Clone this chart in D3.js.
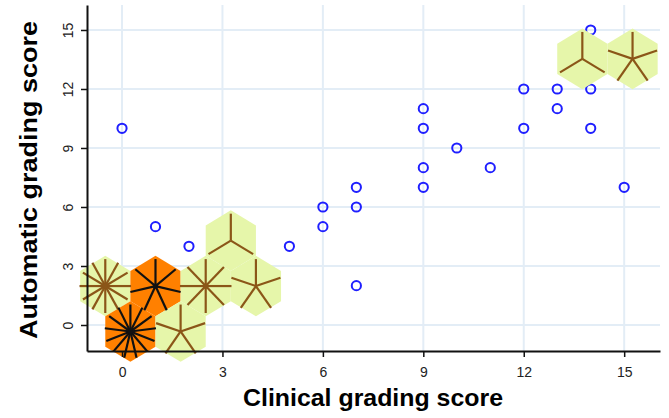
<!DOCTYPE html>
<html>
<head>
<meta charset="utf-8">
<script src="https://cdn.jsdelivr.net/npm/d3@7"></script>
<style>
  html, body { margin: 0; padding: 0; background: #fff; }
  svg { display: block; font-family: "Liberation Sans", Arial, sans-serif; }
</style>
</head>
<body>
<svg id="chart" width="669" height="418"></svg>
<script>
// ---- data ----
const xTicks = [0, 3, 6, 9, 12, 15];
const yTicks = [0, 3, 6, 9, 12, 15];

// individual observations (clinical, automatic)
const pointX = [0, 1, 2, 5, 6, 6, 7, 7, 7, 9, 9, 9, 9, 10, 11, 12, 12, 13, 13, 14, 14, 14, 15];
const pointY = [10, 5, 4, 4, 6, 5, 7, 6, 2, 11, 10, 8, 7, 9, 8, 12, 10, 12, 11, 15, 12, 10, 7];

// sunflowers (hexagonal bins)
const sunX      = [-0.5, 1.0, 0.25, 1.75, 2.5, 3.25, 4.0, 13.75, 15.25];
const sunY      = [1.98, 1.98, -0.33, -0.33, 1.98, 4.29, 1.98, 13.53, 13.53];
const sunPetals = [12, 7, 13, 5, 8, 3, 5, 3, 5];
const sunDark   = [false, true, true, false, false, false, false, false, false];

const xLabel = "Clinical grading score";
const yLabel = "Automatic grading score";

// ---- layout ----
const svg = d3.select("#chart");
const x = d3.scaleLinear().domain([-1.046, 16.07]).range([87, 660]);
const y = d3.scaleLinear().domain([-1.322, 16.27]).range([351, 5]);

const hexHalfW = 0.75, hexR = 1.54;      // hexagon size in data units
const petalLx = 0.77, petalLy = 1.37;    // petal length in data units

// gridlines
const grid = svg.append("g");
grid.selectAll("line.gy").data(yTicks).join("line")
  .attr("x1", x.range()[0]).attr("x2", x.range()[1])
  .attr("y1", d => y(d)).attr("y2", d => y(d))
  .attr("stroke", "#e3edf6").attr("stroke-width", 2);
grid.selectAll("line.gx").data(xTicks).join("line")
  .attr("y1", y.range()[0]).attr("y2", y.range()[1])
  .attr("x1", d => x(d)).attr("x2", d => x(d))
  .attr("stroke", "#e3edf6").attr("stroke-width", 2);

// scatter points
const pts = pointX.map((v, i) => ({x: v, y: pointY[i]}));
svg.append("g").selectAll("circle").data(pts).join("circle")
  .attr("cx", d => x(d.x)).attr("cy", d => y(d.y)).attr("r", 4.6)
  .attr("fill", "none").attr("stroke", "#1f1fff").attr("stroke-width", 2);

// sunflowers
const suns = sunX.map((v, i) => ({x: v, y: sunY[i], n: sunPetals[i], dark: sunDark[i]}));
const sg = svg.append("g");
suns.forEach(s => {
  const hv = [
    [s.x, s.y + hexR], [s.x + hexHalfW, s.y + hexR / 2], [s.x + hexHalfW, s.y - hexR / 2],
    [s.x, s.y - hexR], [s.x - hexHalfW, s.y - hexR / 2], [s.x - hexHalfW, s.y + hexR / 2]
  ];
  sg.append("polygon")
    .attr("points", hv.map(p => [x(p[0]), y(p[1])].join(",")).join(" "))
    .attr("fill", s.dark ? "#ff8000" : "#e6f6aa");
});
suns.forEach(s => {
  const col = s.dark ? "#111" : "#8b5618";
  for (let k = 0; k < s.n; k++) {
    const a = Math.PI / 2 + k * 2 * Math.PI / s.n;
    sg.append("line")
      .attr("x1", x(s.x)).attr("y1", y(s.y))
      .attr("x2", x(s.x + petalLx * Math.cos(a)))
      .attr("y2", y(s.y + petalLy * Math.sin(a)))
      .attr("stroke", col).attr("stroke-width", 2.2).attr("stroke-linecap", "butt");
  }
  if (s.n >= 7) {
    sg.append("circle").attr("cx", x(s.x)).attr("cy", y(s.y)).attr("r", 2.6).attr("fill", col);
  }
});

// axes
const xAxis = svg.append("g").attr("transform", `translate(0,${y.range()[0]})`)
  .call(d3.axisBottom(x).tickValues(xTicks).tickSize(6).tickSizeOuter(0).tickPadding(10));
const yAxis = svg.append("g").attr("transform", `translate(${x.range()[0]},0)`)
  .call(d3.axisLeft(y).tickValues(yTicks).tickSize(6).tickSizeOuter(0));
[xAxis, yAxis].forEach(g => {
  g.select(".domain").attr("stroke", "#111").attr("stroke-width", 2);
  g.selectAll(".tick line").attr("stroke", "#111").attr("stroke-width", 1.5);
  g.selectAll("text").attr("font-size", 14).attr("fill", "#222")
    .attr("font-family", "'Liberation Sans', Arial, sans-serif");
});
yAxis.selectAll(".tick text")
  .attr("transform", "rotate(-90)")
  .attr("text-anchor", "middle")
  .attr("x", 0).attr("y", -14).attr("dy", 0);

// titles
svg.append("text")
  .attr("x", 373).attr("y", 406)
  .attr("text-anchor", "middle")
  .attr("font-size", 24).attr("font-weight", "bold").attr("fill", "#000")
  .attr("textLength", 260).attr("lengthAdjust", "spacingAndGlyphs")
  .text(xLabel);
svg.append("text")
  .attr("transform", "translate(37,180) rotate(-90)")
  .attr("text-anchor", "middle")
  .attr("font-size", 24).attr("font-weight", "bold").attr("fill", "#000")
  .attr("textLength", 318).attr("lengthAdjust", "spacingAndGlyphs")
  .text(yLabel);
</script>
</body>
</html>
